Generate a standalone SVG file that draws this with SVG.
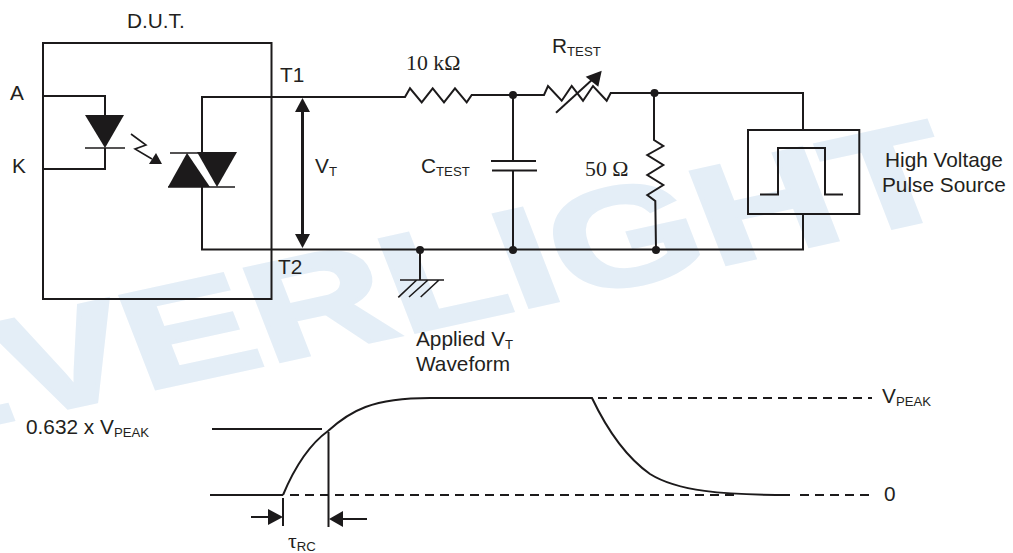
<svg xmlns="http://www.w3.org/2000/svg" width="1013" height="553" viewBox="0 0 1013 553">
<defs><style>
.w{fill:none;stroke:#1c1a1b;stroke-width:2;stroke-linejoin:miter}
.t{stroke:#1c1a1b;stroke-width:1.6;fill:none}
.f{fill:#1c1a1b;stroke:none}
text{font-family:"Liberation Sans",Arial,sans-serif;font-size:20.8px;fill:#231f20}
.s{font-family:"Liberation Serif","Times New Roman",serif;font-size:21.8px}
.sub{font-size:13.2px;font-family:"Liberation Sans",Arial,sans-serif}
.mark{font-weight:bold;font-size:100px;fill:#e4eef7;stroke:#e4eef7;stroke-width:2.5}
</style></defs>
<rect width="1013" height="553" fill="#fff"/>
<text id="watermark" class="mark" transform="matrix(1.867 -.407 .52 1.34 -104.7 445.3)">EVERLIGHT</text>
<g id="connectors">
<path class="w" d="M202 153V97H405L410 88.3 421.7 102.3 432.7 88.3 444 102.3 455 88.3 466.7 102.3 471.7 95H544L548 86 561.7 100.7 571.7 86 583 100.7 593 86 606.7 100.7 610.7 93H803V130"/>
<path class="w" d="M202 187V249.5H803V214"/>
<path class="w" d="M513 95V160M513 171V250"/>
<path class="w" d="M654 93V140L663.3 146 647.3 155 663.3 165 647.3 175 663.3 185 647.3 195 655.3 201 656 250"/>
<path class="w" d="M420 250V280"/>
<path class="w" style="stroke-width:3" d="M302.5 110V236"/>
</g>
<g id="dut"><rect class="w" x="43" y="43" width="228.5" height="256"/></g>
<g id="led">
<path class="w" d="M43 96H105V116M105 148V169H43"/>
<path class="f" d="M85 115H124L105 148Z"/>
<path class="t" d="M85 148H125"/>
<path class="t" d="M131 134 146 145 135 149 152 159"/>
<path class="f" d="M156 153 149 164H162Z"/>
</g>
<g id="triac">
<path class="t" d="M170 153H236M168 187H235"/>
<path class="f" d="M197 152H237L217 187Z"/>
<path class="f" d="M187 153 168 187H210Z"/>
</g>
<g id="vt-arrow">
<path class="f" d="M302.5 98 295 112H310Z"/>
<path class="f" d="M295 234H310L302.5 248Z"/>
</g>
<g id="nodes">
<circle class="f" cx="513" cy="95" r="4"/>
<circle class="f" cx="654.5" cy="93" r="4"/>
<circle class="f" cx="420" cy="250" r="4"/>
<circle class="f" cx="513" cy="250" r="4"/>
<circle class="f" cx="656" cy="250" r="4"/>
</g>
<g id="rtest-arrow">
<path class="w" d="M556 112.7 594 78"/>
<path class="f" d="M601.7 70.7 585.7 76.7 598.3 86.7Z"/>
</g>
<g id="ctest"><path class="w" d="M491 161H536M492 170.5H537"/></g>
<g id="ground"><path class="t" d="M400 280H444M416.7 280 398.3 297.3M428 280 409 297M439 280 420.7 297"/></g>
<g id="pulse-source">
<rect class="w" x="748" y="130" width="111.3" height="84"/>
<path class="w" d="M760 194.5H778V148H825V194.5H843"/>
</g>
<g id="waveform">
<path class="w" d="M212 429H322M210 495H283M283 498V526M328.5 432V527"/>
<path class="w" d="M283 495C296 464 310 444 328 431 350 411 372 398 430 398H592C612 440 633 462 650 474 677 491 722 495 790 495"/>
<path class="w" stroke-dasharray="9 6" d="M290 495H735M800 495H872M598 398H872"/>
<path class="w" d="M251 517H268M367 519H343"/>
<path class="f" d="M268 509V525L283 517ZM343 511V527L329 519Z"/>
</g>
<g id="labels">
<text x="127" y="28">D.U.T.</text>
<text x="280" y="82">T1</text>
<text x="278" y="274">T2</text>
<text x="10" y="100">A</text>
<text x="12" y="173">K</text>
<text x="315" y="173">V<tspan class="sub" dy="3">T</tspan></text>
<text class="s" x="406" y="70">10 kΩ</text>
<text x="552" y="53">R<tspan class="sub" dy="3">TEST</tspan></text>
<text x="421" y="173">C<tspan class="sub" dy="3">TEST</tspan></text>
<text class="s" x="585" y="176">50 Ω</text>
<text x="885" y="167">High Voltage</text>
<text x="882" y="192">Pulse Source</text>
<text x="416" y="346">Applied V<tspan class="sub" dy="3">T</tspan></text>
<text x="416" y="371">Waveform</text>
<text x="26" y="434">0.632 x V<tspan class="sub" dy="3">PEAK</tspan></text>
<text x="882" y="403">V<tspan class="sub" dy="3">PEAK</tspan></text>
<text x="884" y="501">0</text>
<text class="s" x="288" y="548">τ<tspan class="sub" dy="3">RC</tspan></text>
</g>
</svg>
